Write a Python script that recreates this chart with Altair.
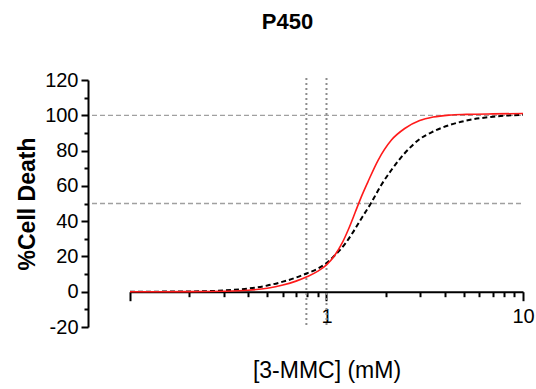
import altair as alt
import pandas as pd

# Curve readings (concentration in mM, % cell death)
conc_red = [0.1, 0.2, 0.3, 0.4, 0.5, 0.6, 0.7, 0.8, 0.9, 1.0, 1.1, 1.2, 1.3, 1.4,
            1.5, 1.625, 1.83, 2.14, 2.5, 2.98, 3.49, 4.2, 5.16, 7.0, 10.0]
death_red = [0.0, 0.03, 0.25, 0.8, 2.0, 3.8, 6.0, 8.6, 11.5, 15.2, 20.5, 27.5, 36.0, 45.0,
             53.5, 62.3, 74.5, 86.0, 92.5, 97.0, 99.0, 100.1, 100.5, 100.8, 101.0]

conc_blk = [0.1, 0.2, 0.3, 0.4, 0.5, 0.6, 0.7, 0.79, 0.9, 1.0, 1.1, 1.26, 1.36, 1.53,
            1.68, 1.9, 2.14, 2.5, 2.98, 3.49, 4.24, 5.16, 7.06, 10.0]
death_blk = [0.0, 0.15, 0.7, 1.8, 3.5, 5.7, 8.0, 10.3, 13.0, 16.3, 20.5, 28.0, 33.5, 42.8,
             50.0, 60.5, 69.0, 78.5, 86.5, 90.8, 94.5, 97.0, 99.2, 100.3]

ref_y = [50, 100]          # horizontal dashed reference lines
ref_x = [0.79, 1.0]        # vertical dotted reference lines

x_major = [0.1, 1, 10]
x_minor = [0.2, 0.3, 0.4, 0.5, 0.6, 0.7, 0.8, 0.9, 2, 3, 4, 5, 6, 7, 8, 9]
y_major = [-20, 0, 20, 40, 60, 80, 100, 120]
y_minor = [-10, 10, 30, 50, 70, 90, 110]

W, H = 393, 247
FONT = "Liberation Sans"
XOFF = -35.3
YOFF = 42

xs = alt.Scale(type="log", domain=[0.1, 10], nice=False)
ys = alt.Scale(domain=[-20, 120], nice=False, zero=False)

df_red = pd.DataFrame({"c": conc_red, "v": death_red})
df_blk = pd.DataFrame({"c": conc_blk, "v": death_blk})

x_axis_major = alt.Axis(values=x_major, orient="bottom", offset=XOFF,
                        labelExpr="datum.value < 0.5 ? '' : datum.label",
                        labelFlush=False, labelOverlap=False,
                        tickSize=9, tickWidth=2, tickColor="black",
                        domainWidth=2, domainColor="black",
                        labelFont=FONT, labelFontSize=20, labelColor="black",
                        labelPadding=6, grid=False,
                        title="[3-MMC] (mM)", titleFont=FONT, titleFontSize=23,
                        titleFontWeight="normal", titleColor="black",
                        titleY=85.3, titleBaseline="alphabetic")
y_axis_major = alt.Axis(values=y_major, orient="left", offset=YOFF,
                        labelExpr="datum.value < 0 ? '-' + abs(datum.value) : datum.label",
                        tickSize=7, tickWidth=2, tickColor="black",
                        domainWidth=2, domainColor="black",
                        labelFont=FONT, labelFontSize=20, labelColor="black",
                        labelPadding=3, grid=False,
                        title="%Cell Death", titleFont=FONT, titleFontSize=23,
                        titleFontWeight="bold", titleColor="black",
                        titleX=-61, titleY=H / 2, titleBaseline="middle",
                        titleAngle=270, titleAlign="center")

blk_line = alt.Chart(df_blk).mark_line(
    color="black", strokeWidth=2, strokeDash=[5, 3], interpolate="monotone"
).encode(
    x=alt.X("c:Q", scale=xs, axis=x_axis_major),
    y=alt.Y("v:Q", scale=ys, axis=y_axis_major),
)

red_line = alt.Chart(df_red).mark_line(
    color="#ff1a1a", strokeWidth=1.6, interpolate="monotone"
).encode(
    x=alt.X("c:Q", scale=xs, axis=None),
    y=alt.Y("v:Q", scale=ys, axis=None),
)

minor = alt.Chart(pd.DataFrame({"c": [1.0], "v": [0.0]})).mark_point(opacity=0).encode(
    x=alt.X("c:Q", scale=xs, axis=alt.Axis(values=x_minor, orient="bottom", offset=XOFF,
                                          labels=False, domain=False, tickSize=5,
                                          tickWidth=2, tickColor="black", grid=False,
                                          title=None)),
    y=alt.Y("v:Q", scale=ys, axis=alt.Axis(values=y_minor, orient="left", offset=YOFF,
                                          labels=False, domain=False, tickSize=4,
                                          tickWidth=2, tickColor="black", grid=False,
                                          title=None)),
)

hrules = alt.Chart(pd.DataFrame({"v": ref_y})).mark_rule(
    color="#a0a0a0", strokeWidth=1.3, strokeDash=[5, 3]
).encode(
    y=alt.Y("v:Q", scale=ys, axis=None),
    x=alt.value(-38),
    x2=alt.value(W),
)

vrules = alt.Chart(pd.DataFrame({"c": ref_x})).mark_rule(
    color="#8c8c8c", strokeWidth=2, strokeDash=[2, 3]
).encode(
    x=alt.X("c:Q", scale=xs, axis=None),
    y=alt.value(-2),
    y2=alt.value(H),
)

chart = alt.layer(hrules, vrules, minor, blk_line, red_line).resolve_axis(
    x="independent", y="independent"
).properties(
    width=W, height=H,
    title=alt.TitleParams("P450", font=FONT, fontSize=22, fontWeight="bold",
                          color="black", anchor="middle", frame="group",
                          dx=-39, offset=19, baseline="alphabetic"),
    autosize=alt.AutoSizeParams(type="none"),
    padding={"left": 130, "top": 80, "right": 13, "bottom": 62},
).configure_view(stroke=None)

chart.save("out.html", embed_options={"renderer": "svg", "actions": False})
